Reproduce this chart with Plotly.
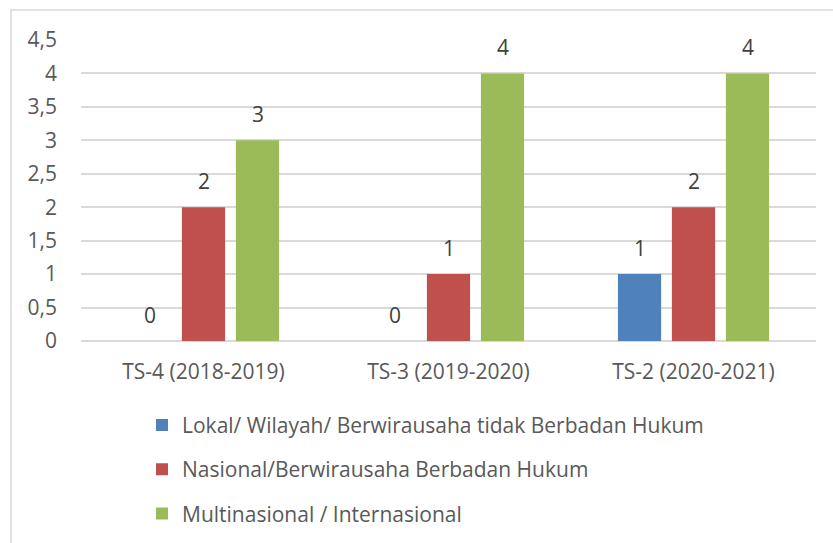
import plotly.graph_objects as go

categories = ["TS-4 (2018-2019)", "TS-3 (2019-2020)", "TS-2 (2020-2021)"]
series_names = [
    "Lokal/ Wilayah/ Berwirausaha tidak Berbadan Hukum",
    "Nasional/Berwirausaha Berbadan Hukum",
    "Multinasional / Internasional",
]
lokal = [0, 0, 1]
nasional = [2, 1, 2]
multinasional = [3, 4, 4]
colors = ["#4F81BD", "#C0504D", "#9BBB59"]
y_ticks = [0, 0.5, 1, 1.5, 2, 2.5, 3, 3.5, 4, 4.5]
y_tick_labels = ["0", "0,5", "1", "1,5", "2", "2,5", "3", "3,5", "4", "4,5"]

FONT = "Open Sans"
TXT = "#595959"
FS = 21

fig = go.Figure()
all_series = [lokal, nasional, multinasional]
for i, (name, vals) in enumerate(zip(series_names, all_series)):
    fig.add_trace(go.Bar(
        x=categories, y=vals, name=name,
        marker=dict(color=colors[i], line=dict(width=0)),
        legendgroup=f"g{i}",
    ))

# data labels via annotations
slot_px = 54
for i, vals in enumerate(all_series):
    for c, v in zip(categories, vals):
        fig.add_annotation(
            x=c, y=v, xref="x", yref="y", text=str(v), showarrow=False,
            xshift=(i - 1) * slot_px, yanchor="bottom", yshift=10,
            font=dict(family=FONT, size=FS, color="#404040"),
        )

# chart border (top and left visible)
fig.add_shape(type="rect", xref="paper", yref="paper",
              x0=-0.0952, x1=1.05, y0=-0.75, y1=1.0997,
              line=dict(color="#D9D9D9", width=1.5), fillcolor="rgba(0,0,0,0)",
              layer="below")

fig.update_layout(
    width=833, height=543,
    margin=dict(l=81, r=17, t=40, b=202, autoexpand=False),
    paper_bgcolor="white", plot_bgcolor="white",
    barmode="group", bargap=0.339, bargroupgap=0.2,
    font=dict(family=FONT, size=FS, color=TXT),
    showlegend=True,
    legend=dict(
        orientation="v", x=0.083, xanchor="left", y=-0.212, yanchor="top",
        font=dict(family=FONT, size=FS, color=TXT),
        tracegroupgap=14, traceorder="grouped",
        bgcolor="rgba(0,0,0,0)",
    ),
    xaxis=dict(
        showgrid=False, showline=False, ticks="",
        tickfont=dict(family=FONT, size=FS, color=TXT),
        ticklabelstandoff=16, automargin=False,
    ),
    yaxis=dict(
        range=[0, 4.5], tickvals=y_ticks, ticktext=y_tick_labels,
        showgrid=True, gridcolor="#D9D9D9", gridwidth=1.5,
        zeroline=True, zerolinecolor="#D9D9D9", zerolinewidth=1.5,
        showline=False, ticks="",
        tickfont=dict(family=FONT, size=FS, color=TXT),
        ticklabelstandoff=23, automargin=False,
    ),
)

fig.write_html("out.html", config={"displayModeBar": False},
               post_script="document.body.style.margin='0';")
